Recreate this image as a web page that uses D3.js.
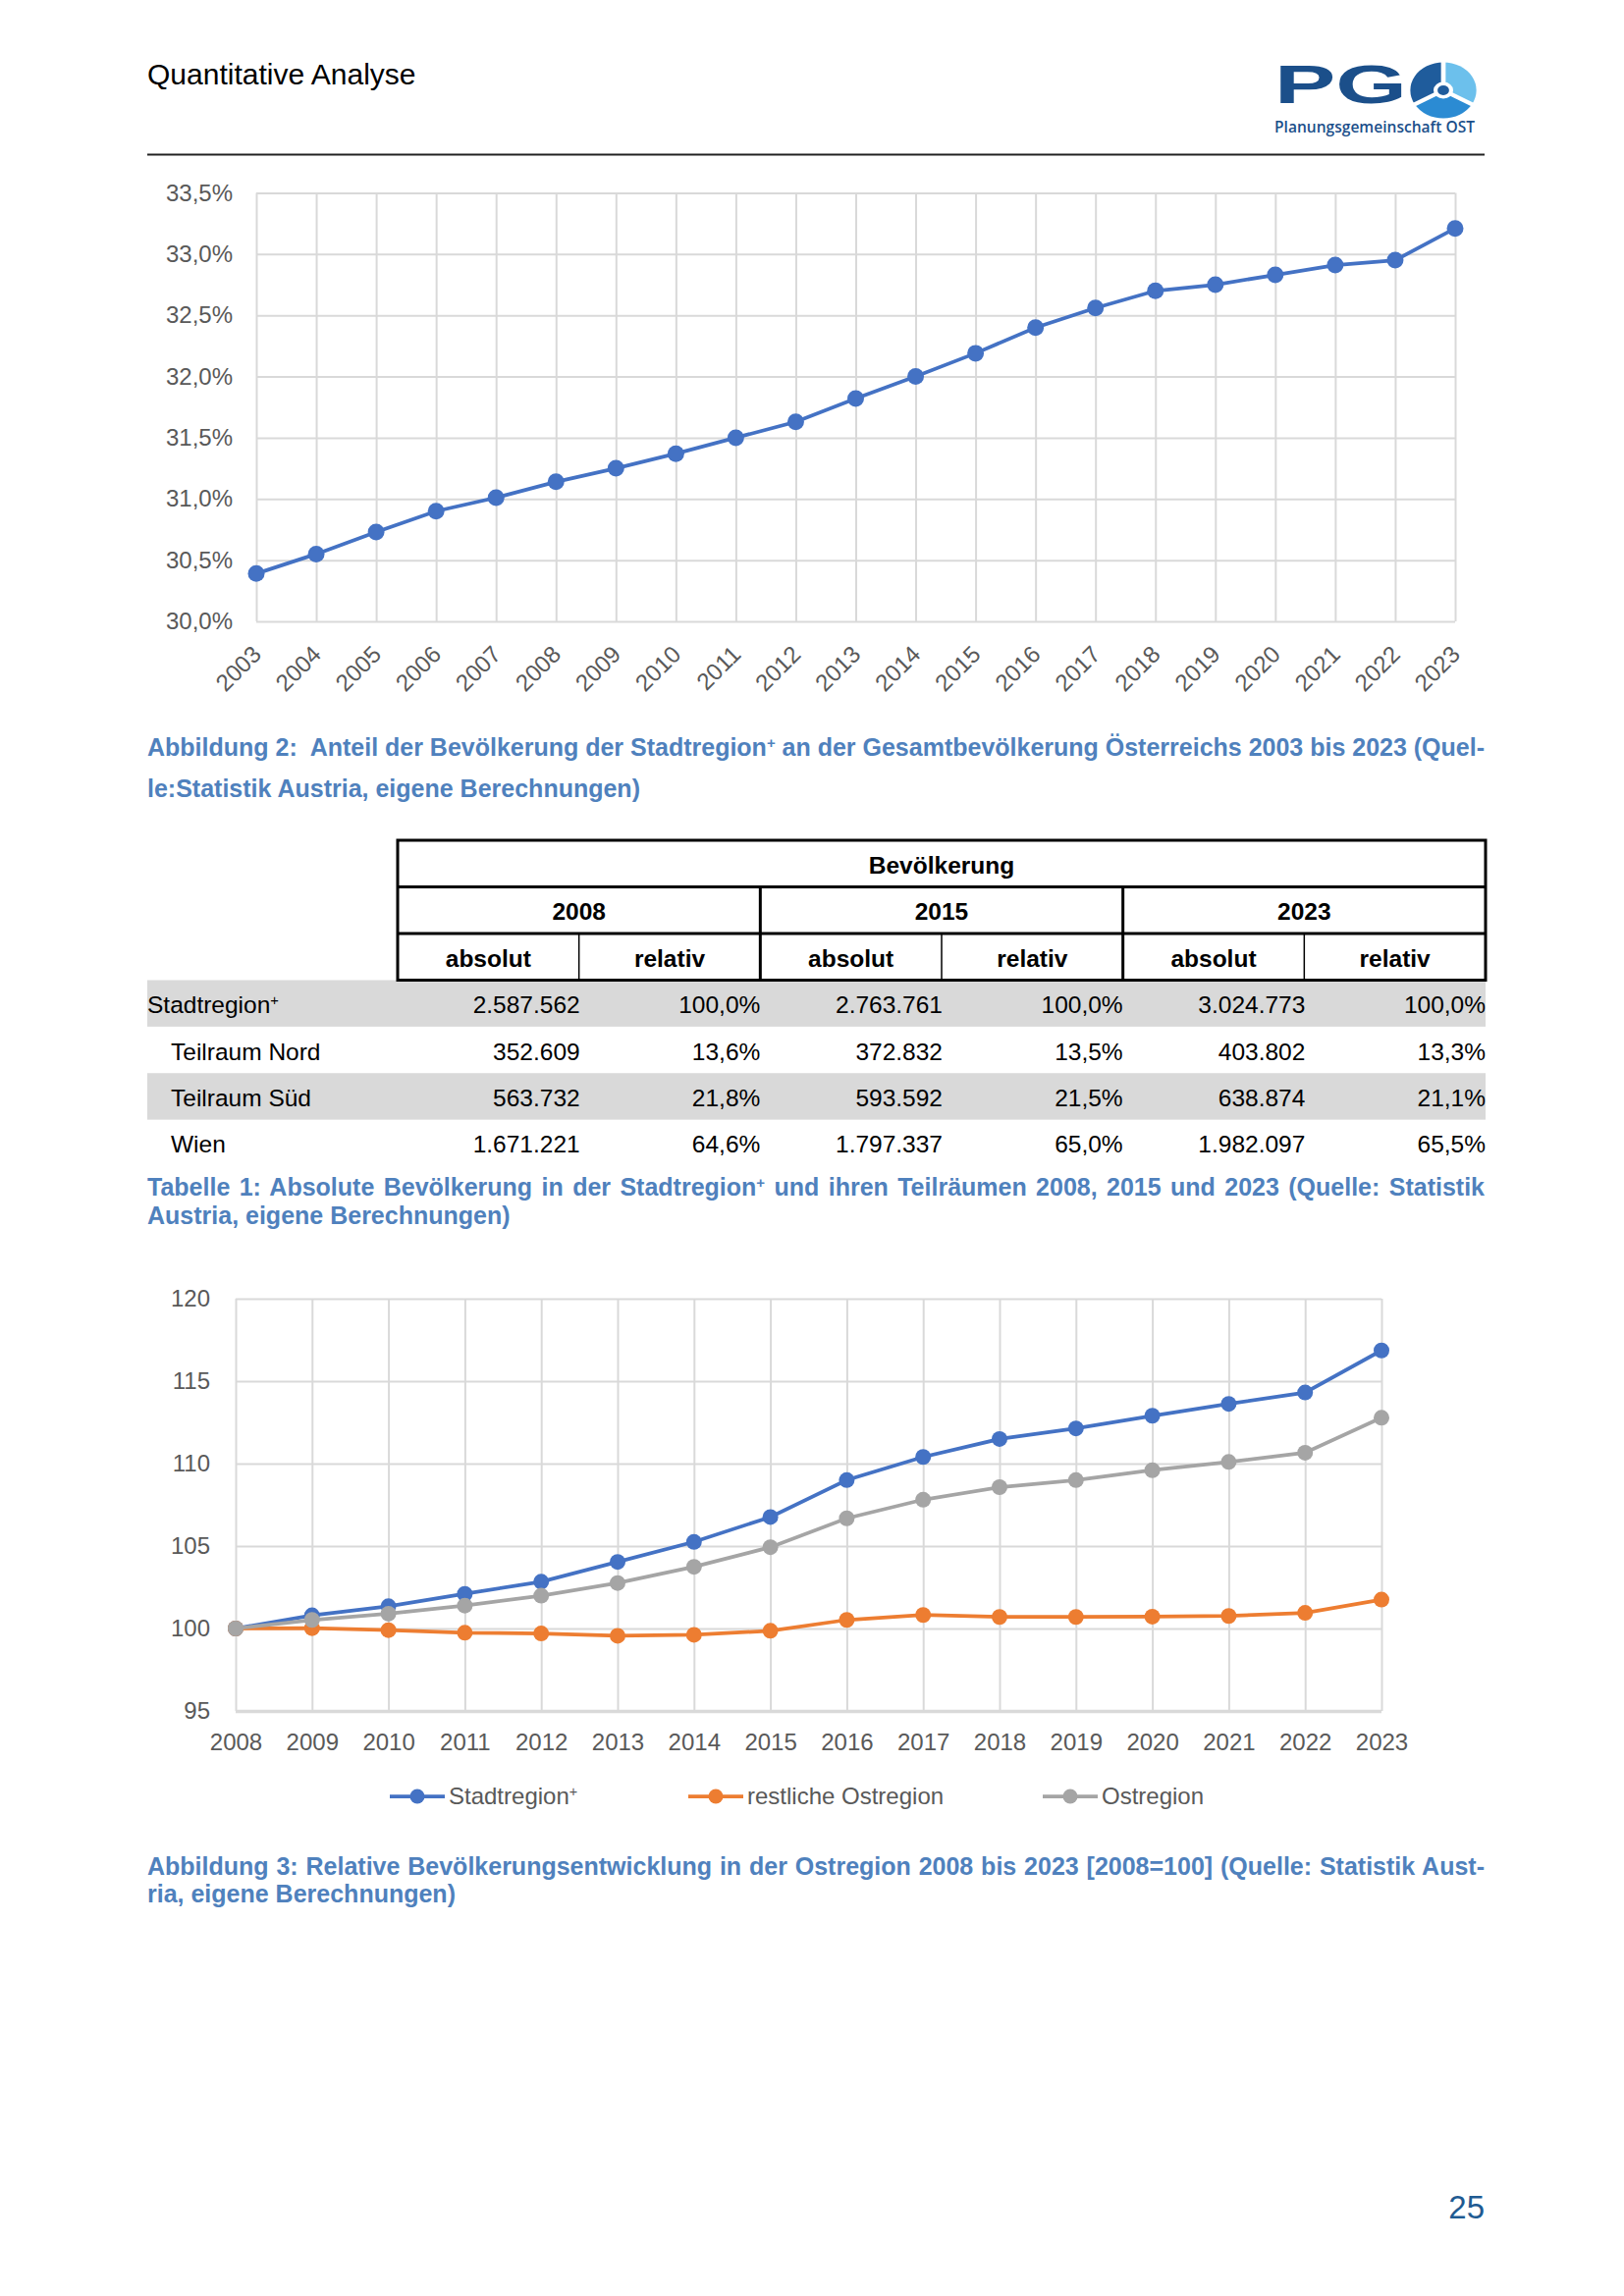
<!DOCTYPE html>
<html>
<head>
<meta charset="utf-8">
<script src="https://cdn.jsdelivr.net/npm/d3@7"></script>
<style>
	body { margin: 0; background: #fff; }
	svg { display: block; font-family: 'Liberation Sans', Arial, sans-serif; }
</style>
</head>
<body>
<svg id="page" width="1654" height="2339"></svg>
<script>
// Abbildung 2: Anteil Stadtregion+ an Österreich (%)
const years1 = [2003, 2004, 2005, 2006, 2007, 2008, 2009, 2010, 2011, 2012, 2013, 2014, 2015, 2016, 2017, 2018, 2019, 2020, 2021, 2022, 2023];
const share = [30.39, 30.55, 30.73, 30.90, 31.01, 31.14, 31.25, 31.37, 31.50, 31.63, 31.82, 32.00, 32.19, 32.40, 32.56, 32.70, 32.75, 32.83, 32.91, 32.95, 33.21];
const shareTicks = [30, 30.5, 31, 31.5, 32, 32.5, 33, 33.5];

// Abbildung 3: Index 2008=100
const years2 = [2008, 2009, 2010, 2011, 2012, 2013, 2014, 2015, 2016, 2017, 2018, 2019, 2020, 2021, 2022, 2023];
const stadtregion = [100, 100.80, 101.35, 102.10, 102.84, 104.04, 105.25, 106.76, 109.00, 110.40, 111.49, 112.13, 112.90, 113.62, 114.31, 116.86];
const restOstregion = [100, 100.02, 99.90, 99.74, 99.70, 99.56, 99.62, 99.86, 100.52, 100.82, 100.70, 100.70, 100.72, 100.76, 100.95, 101.75];
const ostregion = [100, 100.52, 100.90, 101.39, 101.99, 102.76, 103.74, 104.93, 106.68, 107.81, 108.57, 109.00, 109.60, 110.10, 110.66, 112.78];
const indexTicks = [95, 100, 105, 110, 115, 120];
const seriesNames = ['Stadtregion⁺', 'restliche Ostregion', 'Ostregion'];

// Tabelle 1
const tableYears = ['2008', '2015', '2023'];
const tableSub = ['absolut', 'relativ'];
const rowNames = ['Stadtregion⁺', 'Teilraum Nord', 'Teilraum Süd', 'Wien'];
const absolut = [
	[2587562, 2763761, 3024773],
	[352609, 372832, 403802],
	[563732, 593592, 638874],
	[1671221, 1797337, 1982097]
];
const relativ = [
	[100.0, 100.0, 100.0],
	[13.6, 13.5, 13.3],
	[21.8, 21.5, 21.1],
	[64.6, 65.0, 65.5]
];

const caption1 = ['Abbildung 2:  Anteil der Bevölkerung der Stadtregion⁺ an der Gesamtbevölkerung Österreichs 2003 bis 2023 (Quel-', 'le:Statistik Austria, eigene Berechnungen)'];
const caption2 = ['Tabelle 1: Absolute Bevölkerung in der Stadtregion⁺ und ihren Teilräumen 2008, 2015 und 2023 (Quelle: Statistik', 'Austria, eigene Berechnungen)'];
const caption3 = ['Abbildung 3: Relative Bevölkerungsentwicklung in der Ostregion 2008 bis 2023 [2008=100] (Quelle: Statistik Aust-', 'ria, eigene Berechnungen)'];

const de = d3.formatLocale({ decimal: ',', thousands: '.', grouping: [3], currency: ['', ' €'] });
const GRID = '#d9d9d9';
const LABEL = '#595959';
const CAPTION = '#4f81bd';

let svg;

function init() {
	svg = d3.select('#page');
	svg.append('rect').attr('width', 1654).attr('height', 2339).attr('fill', '#fff');

	header();
	chartShare();
	captionBlock(caption1, 769.5, 42);
	table();
	captionBlock(caption2, 1218, 29);
	chartIndex();
	captionBlock(caption3, 1909.5, 28.5);

	svg.append('text')
		.attr('x', 1512).attr('y', 2260)
		.attr('text-anchor', 'end')
		.attr('font-size', 33)
		.attr('fill', '#1f5b92')
		.text('25');
}

// splits on ⁺ and writes a raised small plus
function richText(sel, str) {
	str.split('⁺').forEach((p, i) => {
		if (i > 0) sel.append('tspan').attr('baseline-shift', 'super').attr('font-size', '60%').text('+');
		if (p) sel.append('tspan').text(p);
	});
}

function header() {
	svg.append('text')
		.attr('x', 150).attr('y', 85.5)
		.attr('font-size', 30)
		.attr('fill', '#000')
		.text('Quantitative Analyse');
	svg.append('line')
		.attr('x1', 150).attr('x2', 1512)
		.attr('y1', 157.5).attr('y2', 157.5)
		.attr('stroke', '#222').attr('stroke-width', 1.8);

	// logo
	let g = svg.append('g');
	g.append('text')
		.attr('x', 1298).attr('y', 105)
		.attr('font-size', 56).attr('font-weight', 'bold')
		.attr('fill', '#1b4f8a')
		.attr('textLength', 135).attr('lengthAdjust', 'spacingAndGlyphs')
		.text('PG');
	let em = g.append('g').attr('transform', 'translate(1470,92) scale(1.18,1)');
	let arc = d3.arc().innerRadius(0).outerRadius(28.5);
	let fills = ['#6cc0ec', '#2b8bd3', '#1f5c9c'];
	fills.forEach((f, i) => {
		em.append('path')
			.attr('d', arc({ startAngle: i * 2 * Math.PI / 3, endAngle: (i + 1) * 2 * Math.PI / 3 }))
			.attr('fill', f);
	});
	[0, 1, 2].forEach(i => {
		let a = i * 2 * Math.PI / 3;
		em.append('line')
			.attr('x1', 0).attr('y1', 0)
			.attr('x2', 29 * Math.sin(a)).attr('y2', -29 * Math.cos(a))
			.attr('stroke', '#fff').attr('stroke-width', 4);
	});
	em.append('circle').attr('r', 8.5).attr('fill', '#fff');
	em.append('circle').attr('r', 5).attr('fill', '#1f5c9c');
	g.append('text')
		.attr('x', 1298).attr('y', 135)
		.attr('font-family', "'Open Sans', sans-serif")
		.attr('font-size', 17).attr('font-weight', 600)
		.attr('fill', '#1b4f8a')
		.attr('textLength', 204).attr('lengthAdjust', 'spacingAndGlyphs')
		.text('Planungsgemeinschaft OST');
}

function captionBlock(lines, y0, lh) {
	lines.forEach((ln, i) => {
		let t = svg.append('text')
			.attr('x', 150).attr('y', y0 + i * lh)
			.attr('xml:space', 'preserve')
			.style('white-space', 'pre')
			.attr('font-size', 25).attr('font-weight', 'bold')
			.attr('fill', CAPTION);
		richText(t, ln);
		if (i < lines.length - 1) justify(t, 1362);
	});
}

function justify(t, width) {
	let node = t.node();
	let n = node.getComputedTextLength();
	let spaces = (node.textContent.match(/ /g) || []).length;
	if (spaces) t.attr('word-spacing', (width - n) / spaces);
}

function chartShare() {
	let x = d3.scaleLinear().domain([2003, 2023]).range([261, 1482]);
	let y = d3.scaleLinear().domain([30, 33.5]).range([633, 196.5]);
	let g = svg.append('g');

	// grid
	g.append('g')
		.attr('transform', 'translate(0,633)')
		.call(d3.axisBottom(x).tickValues(years1).tickSize(-(633 - 196.5)).tickFormat(''))
		.call(a => a.select('.domain').remove())
		.selectAll('line').attr('stroke', GRID).attr('stroke-width', 2);
	g.append('g')
		.attr('transform', 'translate(261,0)')
		.call(d3.axisLeft(y).tickValues(shareTicks).tickSize(-(1482 - 261)).tickFormat(''))
		.call(a => a.select('.domain').remove())
		.selectAll('line').attr('stroke', GRID).attr('stroke-width', 2);

	// labels
	g.append('g')
		.attr('transform', 'translate(261,0)')
		.call(d3.axisLeft(y).tickValues(shareTicks).tickSize(0).tickPadding(24).tickFormat(d => de.format('.1f')(d) + '%'))
		.call(a => a.select('.domain').remove())
		.selectAll('text').attr('font-size', 24).attr('fill', LABEL).attr('font-family', null);
	g.append('g')
		.attr('transform', 'translate(0,633)')
		.call(d3.axisBottom(x).tickValues(years1).tickSize(0).tickFormat(d3.format('d')))
		.call(a => a.select('.domain').remove())
		.selectAll('text')
			.attr('font-size', 24).attr('fill', LABEL).attr('font-family', null)
			.attr('text-anchor', 'end')
			.attr('y', 0).attr('dy', 0)
			.attr('transform', 'translate(6,35) rotate(-45)');

	let pts = years1.map((yr, i) => ({ yr: yr, v: share[i] }));
	g.append('path')
		.datum(pts)
		.attr('d', d3.line().x(d => x(d.yr)).y(d => y(d.v)))
		.attr('fill', 'none')
		.attr('stroke', '#4472c4')
		.attr('stroke-width', 3.75);
	g.selectAll('circle.pt')
		.data(pts)
		.enter().append('circle')
			.attr('class', 'pt')
			.attr('cx', d => x(d.yr))
			.attr('cy', d => y(d.v))
			.attr('r', 8.5)
			.attr('fill', '#4472c4');
}

function table() {
	let g = svg.append('g');
	let fmtAbs = de.format(',d');
	let fmtRel = d => de.format('.1f')(d) + '%';
	let cols = d3.scaleBand().domain(d3.range(6)).range([405, 1513]);
	let yearCols = d3.scaleBand().domain(tableYears).range([405, 1513]);
	let headRows = d3.scaleBand().domain([0, 1, 2]).range([856, 998.5]);
	let rows = d3.scaleBand().domain(rowNames).range([998.5, 1188]);
	let fs = 24.5;

	// shading
	g.selectAll('rect.shade')
		.data(rowNames.filter((r, i) => i % 2 === 0))
		.enter().append('rect')
			.attr('class', 'shade')
			.attr('x', 150).attr('width', 1513 - 150)
			.attr('y', d => rows(d)).attr('height', rows.bandwidth())
			.attr('fill', '#d9d9d9');

	// header text
	g.append('text')
		.attr('x', (405 + 1513) / 2).attr('y', headRows(0) + headRows.bandwidth() / 2 + 10)
		.attr('text-anchor', 'middle').attr('font-weight', 'bold').attr('font-size', fs)
		.text('Bevölkerung');
	g.selectAll('text.yr')
		.data(tableYears)
		.enter().append('text')
			.attr('class', 'yr')
			.attr('x', d => yearCols(d) + yearCols.bandwidth() / 2)
			.attr('y', headRows(1) + headRows.bandwidth() / 2 + 10)
			.attr('text-anchor', 'middle').attr('font-weight', 'bold').attr('font-size', fs)
			.text(d => d);
	g.selectAll('text.sub')
		.data(d3.range(6))
		.enter().append('text')
			.attr('class', 'sub')
			.attr('x', d => cols(d) + cols.bandwidth() / 2)
			.attr('y', headRows(2) + headRows.bandwidth() / 2 + 10)
			.attr('text-anchor', 'middle').attr('font-weight', 'bold').attr('font-size', fs)
			.text(d => tableSub[d % 2]);

	// header borders
	g.append('rect')
		.attr('x', 405).attr('y', 856)
		.attr('width', 1513 - 405).attr('height', 998.5 - 856)
		.attr('fill', 'none').attr('stroke', '#000').attr('stroke-width', 3);
	[headRows(1), headRows(2)].forEach(yy => {
		g.append('line').attr('x1', 405).attr('x2', 1513).attr('y1', yy).attr('y2', yy)
			.attr('stroke', '#000').attr('stroke-width', 3);
	});
	tableYears.slice(1).forEach(yr => {
		g.append('line').attr('x1', yearCols(yr)).attr('x2', yearCols(yr))
			.attr('y1', headRows(1)).attr('y2', 998.5)
			.attr('stroke', '#000').attr('stroke-width', 3);
	});
	[1, 3, 5].forEach(c => {
		g.append('line').attr('x1', cols(c)).attr('x2', cols(c))
			.attr('y1', headRows(2)).attr('y2', 998.5)
			.attr('stroke', '#000').attr('stroke-width', 1.5);
	});

	// body
	rowNames.forEach((name, r) => {
		let yy = rows(name) + rows.bandwidth() / 2 + 10;
		let t = g.append('text')
			.attr('x', r === 0 ? 150 : 174).attr('y', yy)
			.attr('font-size', fs);
		richText(t, name);
		tableYears.forEach((yr, k) => {
			g.append('text')
				.attr('x', cols(k * 2) + cols.bandwidth() + 1).attr('y', yy)
				.attr('text-anchor', 'end').attr('font-size', fs)
				.text(fmtAbs(absolut[r][k]));
			g.append('text')
				.attr('x', cols(k * 2 + 1) + cols.bandwidth()).attr('y', yy)
				.attr('text-anchor', 'end').attr('font-size', fs)
				.text(fmtRel(relativ[r][k]));
		});
	});
}

function chartIndex() {
	let x = d3.scaleLinear().domain([2008, 2023]).range([240, 1407]);
	let y = d3.scaleLinear().domain([95, 120]).range([1743, 1323]);
	let colors = ['#4472c4', '#ed7d31', '#a5a5a5'];
	let values = [stadtregion, restOstregion, ostregion];
	let g = svg.append('g');

	g.append('g')
		.attr('transform', 'translate(0,1743)')
		.call(d3.axisBottom(x).tickValues(years2).tickSize(-(1743 - 1323)).tickFormat(''))
		.call(a => a.select('.domain').remove())
		.selectAll('line').attr('stroke', GRID).attr('stroke-width', 2);
	g.append('g')
		.attr('transform', 'translate(240,0)')
		.call(d3.axisLeft(y).tickValues(indexTicks).tickSize(-(1407 - 240)).tickFormat(''))
		.call(a => a.select('.domain').remove())
		.selectAll('line')
			.attr('stroke', GRID)
			.attr('stroke-width', d => d === 95 ? 3.5 : 2);

	g.append('g')
		.attr('transform', 'translate(240,0)')
		.call(d3.axisLeft(y).tickValues(indexTicks).tickSize(0).tickPadding(26).tickFormat(d3.format('d')))
		.call(a => a.select('.domain').remove())
		.selectAll('text').attr('font-size', 24).attr('fill', LABEL).attr('font-family', null);
	g.append('g')
		.attr('transform', 'translate(0,1743)')
		.call(d3.axisBottom(x).tickValues(years2).tickSize(0).tickFormat(d3.format('d')))
		.call(a => a.select('.domain').remove())
		.selectAll('text')
			.attr('font-size', 24).attr('fill', LABEL).attr('font-family', null)
			.attr('y', 40).attr('dy', 0);

	let line = d3.line().x(d => x(d.yr)).y(d => y(d.v));
	values.forEach((vals, s) => {
		let pts = years2.map((yr, i) => ({ yr: yr, v: vals[i] }));
		let sg = g.append('g');
		sg.append('path')
			.datum(pts)
			.attr('d', line)
			.attr('fill', 'none')
			.attr('stroke', colors[s])
			.attr('stroke-width', 3.75);
		sg.selectAll('circle')
			.data(pts)
			.enter().append('circle')
				.attr('cx', d => x(d.yr))
				.attr('cy', d => y(d.v))
				.attr('r', 8)
				.attr('fill', colors[s]);
	});

	// legend
	let legendX = [397, 701, 1062];
	seriesNames.forEach((name, s) => {
		let lg = g.append('g').attr('transform', `translate(${legendX[s]},1830)`);
		lg.append('line').attr('x1', 0).attr('x2', 56)
			.attr('stroke', colors[s]).attr('stroke-width', 3.75);
		lg.append('circle').attr('cx', 28).attr('r', 7.5).attr('fill', colors[s]);
		let t = lg.append('text')
			.attr('x', 60).attr('dy', '0.35em')
			.attr('font-size', 24).attr('fill', LABEL);
		richText(t, name);
	});
}

init();
</script>
</body>
</html>
